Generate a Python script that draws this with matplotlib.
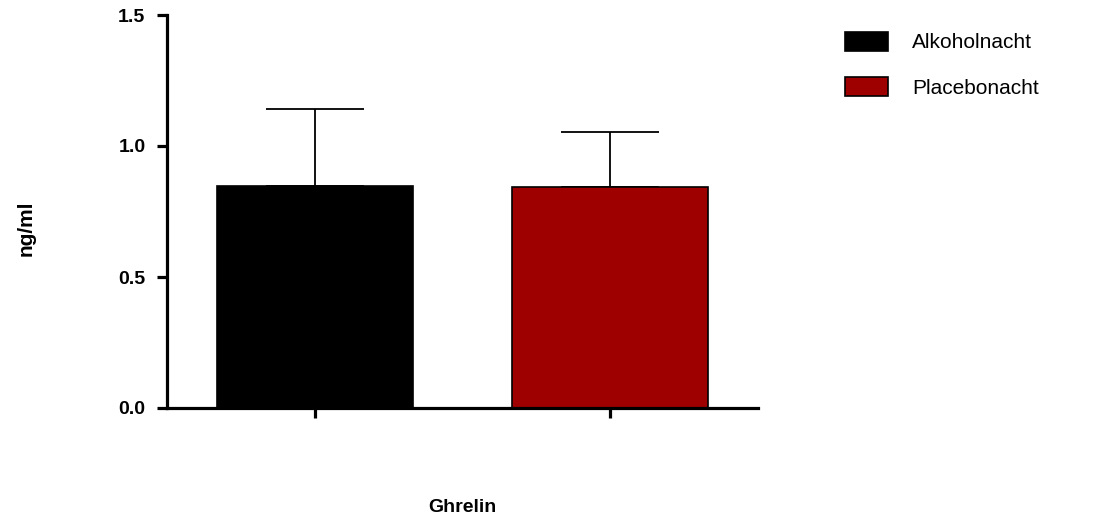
import matplotlib
matplotlib.use("Agg")
import matplotlib.pyplot as plt
from matplotlib.patches import Patch

plt.rcParams['font.family'] = ['Liberation Sans', 'DejaVu Sans']

# Ghrelin (ng/ml), mean and SD per condition
conditions = ["Alkoholnacht", "Placebonacht"]
means = [0.847, 0.843]
sd_upper = [0.294, 0.210]
colors = ["#000000", "#9E0000"]
y_ticks = [0.0, 0.5, 1.0, 1.5]
y_tick_labels = ["0.0", "0.5", "1.0", "1.5"]

fig = plt.figure(figsize=(11.15, 5.23), dpi=100)
ax = fig.add_axes([167 / 1115, 1 - 408 / 523, (758 - 167) / 1115, (408 - 15) / 523])

x = list(range(len(conditions)))
ax.bar(x, means, width=0.664, color=colors, edgecolor="black", linewidth=1.2, zorder=2)
ax.errorbar(x, means, yerr=[[0] * len(means), sd_upper], fmt="none",
            ecolor="black", elinewidth=1.3, capsize=35, capthick=1.3, zorder=1)

ax.set_xlim(-0.5017, 1.5017)
ax.set_ylim(0, 1.5)
ax.set_xticks(x)
ax.set_xticklabels([])
ax.set_yticks(y_ticks)
ax.set_yticklabels(y_tick_labels, fontsize=14, fontweight="bold")

for side in ("top", "right"):
    ax.spines[side].set_visible(False)
for side in ("left", "bottom"):
    ax.spines[side].set_linewidth(2.3)
ax.tick_params(axis="both", direction="out", length=7.5, width=2.3, pad=8)

fig.text((167 + 758) / 2 / 1115, 1 - 507 / 523, "Ghrelin", ha="center", va="center",
         fontsize=14, fontweight="bold")
fig.text(26 / 1115, 1 - 228 / 523, "ng/ml", ha="center", va="center", rotation=90,
         fontsize=15, fontweight="bold")

handles = [Patch(facecolor=c, edgecolor="black", linewidth=1.2) for c in colors]
fig.legend(handles, conditions, loc="upper left", bbox_to_anchor=(845 / 1115, 1 - 32 / 523),
           frameon=False, fontsize=15, handlelength=2.07, handleheight=1.0,
           handletextpad=1.15, labelspacing=1.2, borderpad=0, borderaxespad=0)

fig.savefig("out.png", dpi=100)
